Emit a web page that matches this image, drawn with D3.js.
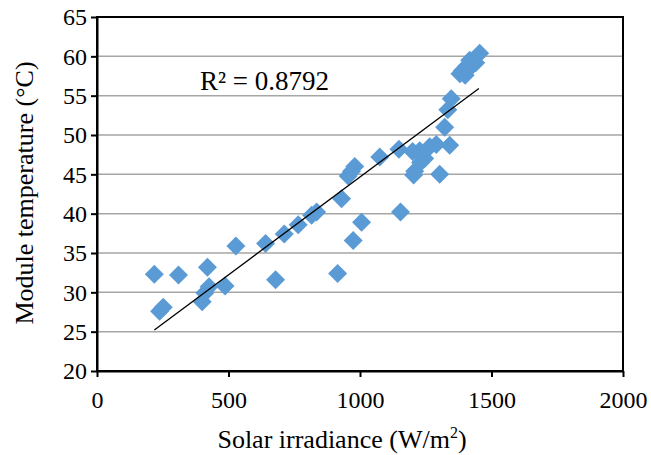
<!DOCTYPE html>
<html>
<head>
<meta charset="utf-8">
<script src="https://cdn.jsdelivr.net/npm/d3@7"></script>
<style>
  body { margin: 0; background: #fff; }
  svg text { font-family: "Liberation Serif", "Times New Roman", Tinos, "DejaVu Serif", serif; fill: #000; }
</style>
</head>
<body>
<script>
const w = 651;
const h = 455;

// irradiance (W/m2) and module temperature (°C)
const irradiance = [218, 238, 252, 310, 400, 410, 420, 426, 487, 528, 641, 679, 712, 765, 816, 835,
  915, 930, 955, 968, 980, 974, 1006, 1075, 1148, 1154, 1204, 1208, 1200, 1227, 1230, 1246, 1265,
  1290, 1303, 1322, 1334, 1341, 1347, 1380, 1390, 1400, 1405, 1417, 1428, 1440, 1455];
const temperature = [32.3, 27.6, 28.1, 32.2, 28.8, 29.9, 33.2, 30.7, 30.8, 35.9, 36.2, 31.6, 37.4, 38.6, 39.8, 40.2,
  32.4, 41.9, 44.8, 45.4, 46.0, 36.6, 38.9, 47.2, 48.2, 40.2, 44.9, 45.4, 47.9, 48.0, 46.5, 47.0, 48.5,
  48.8, 45.0, 51.0, 53.2, 48.7, 54.6, 57.8, 58.2, 57.6, 58.7, 59.5, 58.9, 59.2, 60.4];
const xTicks = [0, 500, 1000, 1500, 2000];
const yTicks = [20, 25, 30, 35, 40, 45, 50, 55, 60, 65];
const trendSlope = 0.02488;
const trendIntercept = 19.78;
const trendRange = [218, 1452];
const r2Label = "R\u00b2 = 0.8792";

const data = irradiance.map((x, i) => [x, temperature[i]]);
const serif = '"Liberation Serif", "Times New Roman", Tinos, "DejaVu Serif", serif';

const margin = { left: 97, right: 28, top: 17, bottom: 84 };

const svg = d3.select("body").append("svg").attr("width", w).attr("height", h)
  .attr("font-family", serif);

const xScale = d3.scaleLinear().domain([0, 2000]).range([margin.left, w - margin.right]);
const yScale = d3.scaleLinear().domain([20, 65]).range([h - margin.bottom, margin.top]);

// gridlines
svg.append("g")
  .selectAll("line")
  .data(yTicks.slice(1, -1))
  .enter()
  .append("line")
  .attr("x1", xScale(0))
  .attr("x2", xScale(2000))
  .attr("y1", (d) => yScale(d))
  .attr("y2", (d) => yScale(d))
  .attr("stroke", "#a6a6a6")
  .attr("stroke-width", 1.5);

// points
const r = 9.5;
svg.append("g")
  .selectAll("path")
  .data(data)
  .enter()
  .append("path")
  .attr("d", (d) => {
    const cx = xScale(d[0]), cy = yScale(d[1]);
    return `M${cx},${cy - r}L${cx + r},${cy}L${cx},${cy + r}L${cx - r},${cy}Z`;
  })
  .attr("fill", "#5b9bd5");

// trend line
svg.append("line")
  .attr("x1", xScale(trendRange[0]))
  .attr("y1", yScale(trendIntercept + trendSlope * trendRange[0]))
  .attr("x2", xScale(trendRange[1]))
  .attr("y2", yScale(trendIntercept + trendSlope * trendRange[1]))
  .attr("stroke", "#000")
  .attr("stroke-width", 1.3);

// frame (top and right)
svg.append("rect")
  .attr("x", xScale(0))
  .attr("y", yScale(65))
  .attr("width", xScale(2000) - xScale(0))
  .attr("height", yScale(20) - yScale(65))
  .attr("fill", "none")
  .attr("stroke", "#000")
  .attr("stroke-width", 2);

const xAxis = d3.axisBottom(xScale).tickValues(xTicks).tickFormat(d3.format("d"))
  .tickSize(6).tickSizeOuter(0).tickPadding(14);
const yAxis = d3.axisLeft(yScale).tickValues(yTicks).tickFormat(d3.format("d"))
  .tickSize(6).tickSizeOuter(0).tickPadding(4);

const gx = svg.append("g")
  .attr("transform", "translate(0," + yScale(20) + ")")
  .call(xAxis);
const gy = svg.append("g")
  .attr("transform", "translate(" + xScale(0) + ",0)")
  .call(yAxis);

[gx, gy].forEach((g) => {
  g.attr("font-family", serif).attr("font-size", 24);
  g.select(".domain").attr("stroke", "#000").attr("stroke-width", 2);
  g.selectAll(".tick line").attr("stroke", "#000").attr("stroke-width", 2);
  g.selectAll(".tick text").attr("fill", "#000");
});

// R² label
svg.append("text")
  .attr("x", 200)
  .attr("y", 90)
  .attr("font-size", 27)
  .text(r2Label);

// axis titles
const xt = svg.append("text")
  .attr("x", 342)
  .attr("y", 448)
  .attr("text-anchor", "middle")
  .attr("font-size", 26);
xt.append("tspan").text("Solar irradiance (W/m");
xt.append("tspan").attr("font-size", 16).attr("dy", -10).text("2");
xt.append("tspan").attr("dy", 10).text(")");

svg.append("text")
  .attr("transform", "translate(33," + 193 + ") rotate(-90)")
  .attr("text-anchor", "middle")
  .attr("font-size", 26)
  .text("Module temperature (\u00b0C)");
</script>
</body>
</html>
